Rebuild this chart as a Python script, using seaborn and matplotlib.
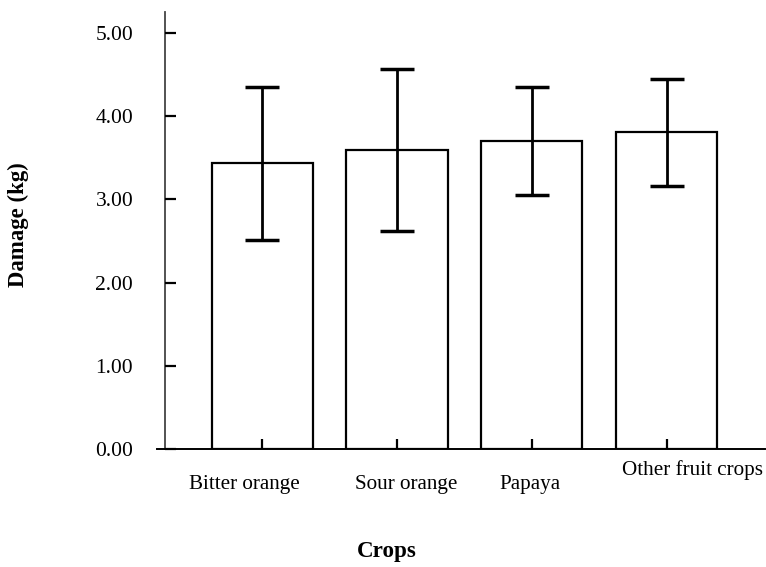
import matplotlib
matplotlib.use("Agg")
import matplotlib.pyplot as plt
import matplotlib.transforms as mtransforms
import seaborn as sns
import pandas as pd
import numpy as np

crops = ["Bitter orange", "Sour orange", "Papaya", "Other fruit crops"]
damage = [3.44, 3.59, 3.70, 3.81]
err_low = [2.51, 2.62, 3.05, 3.16]
err_high = [4.35, 4.56, 4.35, 4.44]
yticks = [0, 1, 2, 3, 4, 5]
ytick_labels = ["0.00", "1.00", "2.00", "3.00", "4.00", "5.00"]

sns.set_style("ticks")
plt.rcParams["font.family"] = ["Liberation Serif", "DejaVu Serif"]
plt.rcParams["text.color"] = "black"
plt.rcParams["xtick.color"] = "black"
plt.rcParams["ytick.color"] = "black"

df = pd.DataFrame({"Crop": crops, "Damage": damage})

W, H = 766, 567
fig = plt.figure(figsize=(W / 100, H / 100), dpi=100)
ax = fig.add_axes([157 / W, 1 - 449 / H, (765 - 157) / W, (449 - 12) / H])

sns.barplot(data=df, x="Crop", y="Damage", ax=ax, color="white",
            edgecolor="black", linewidth=1.6, width=0.75, errorbar=None)

x = np.arange(len(crops))
d = np.array(damage)
yerr = np.vstack([d - np.array(err_low), np.array(err_high) - d])
ax.errorbar(x, d, yerr=yerr, fmt="none", ecolor="black", elinewidth=2.0,
            capsize=12.5, capthick=2.5, zorder=5)

ax.set_axisbelow(False)
ax.set_xlim(-0.78, 3.73)
ax.set_ylim(0, 5.25)
ax.spines["left"].set_position(("data", -0.72))
ax.spines["right"].set_visible(False)
ax.spines["top"].set_visible(False)
ax.spines["left"].set_color("#444444")
ax.spines["left"].set_linewidth(1.3)
ax.spines["bottom"].set_linewidth(1.4)
ax.spines["bottom"].set_color("black")

ax.set_yticks(yticks)
ax.set_yticklabels(ytick_labels, fontsize=15.5, color="black")
ax.tick_params(axis="y", direction="in", length=8, width=1.6, pad=23, color="black")
ax.set_xticks(x)
ax.set_xticklabels([""] * len(crops))
ax.tick_params(axis="x", direction="in", length=7, width=1.6, color="black")
ax.set_xlabel("")
ax.set_ylabel("")

# category labels (offset as in reference)
label_dx = [-0.13, 0.07, -0.01, 0.19]
label_y = [485, 485, 485, 470]
trans = mtransforms.blended_transform_factory(ax.transData, fig.transFigure)
for i, (lab, dx, py) in enumerate(zip(crops, label_dx, label_y)):
    ax.text(i + dx, 1 - py / H, lab, transform=trans,
            ha="center", va="center", fontsize=15.2, color="black")

fig.text(18 / W, 1 - 225 / H, "Damage (kg)", rotation=90, ha="center", va="center",
         fontsize=16.4, fontweight="bold", color="black")
fig.text(387 / W, 1 - 552 / H, "Crops", ha="center", va="center",
         fontsize=16.6, fontweight="bold", color="black")

fig.savefig("out.png", dpi=100)
